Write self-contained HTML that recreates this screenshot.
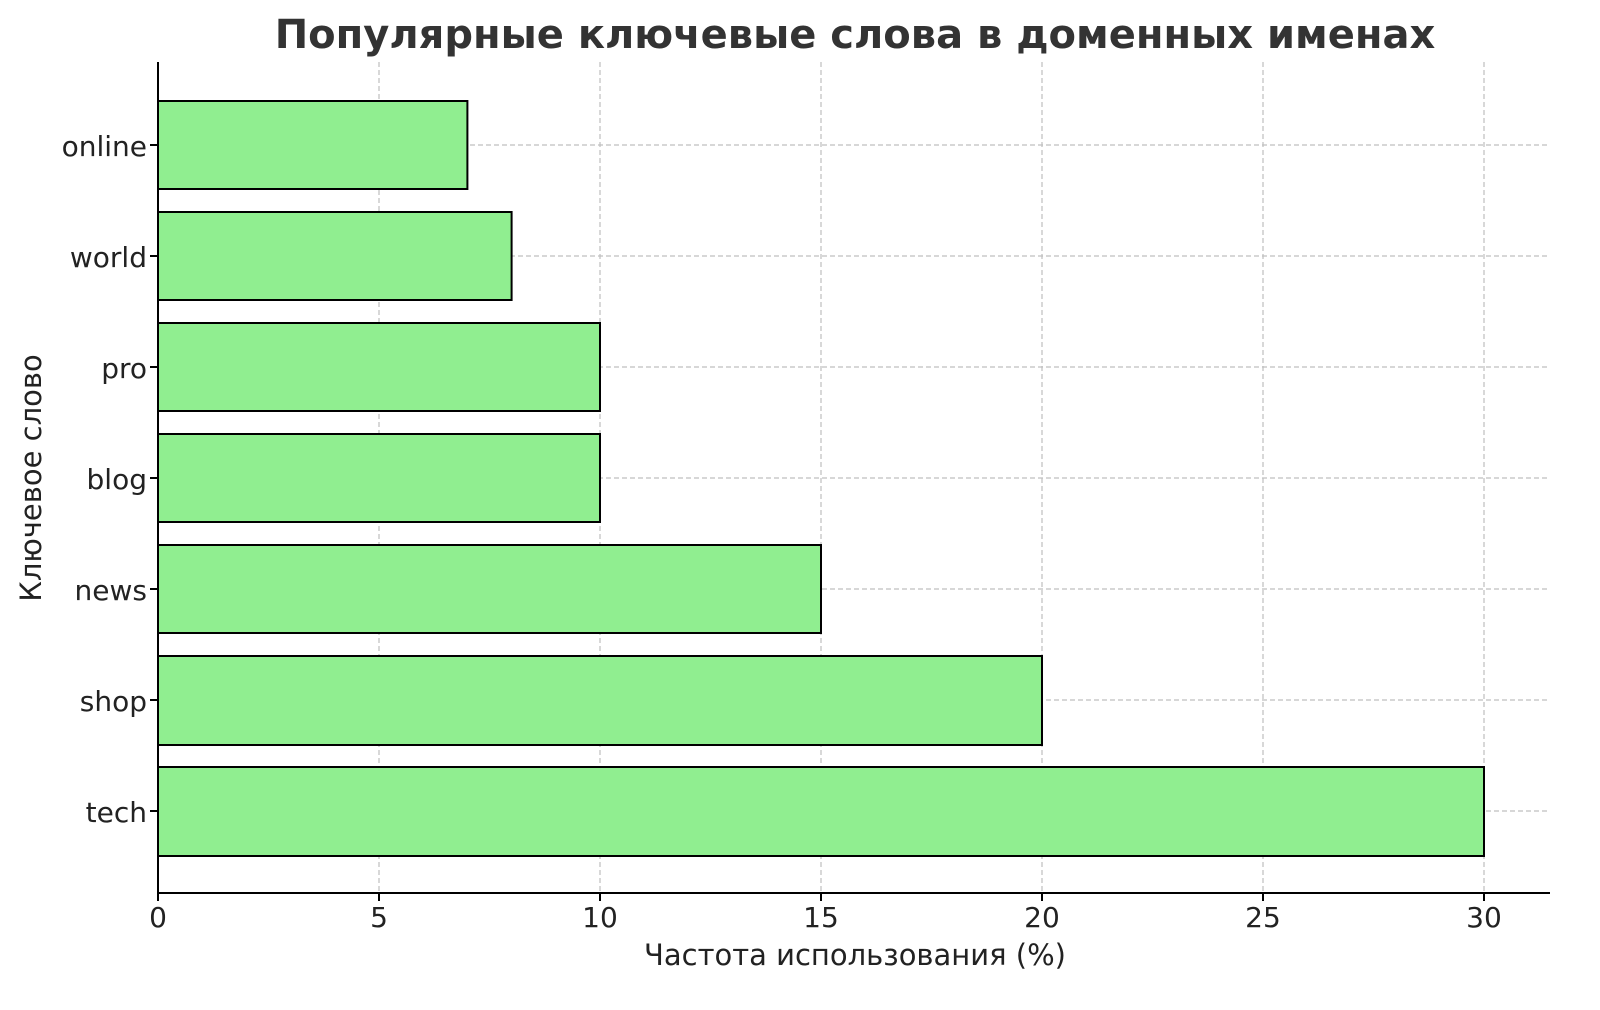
<!DOCTYPE html>
<html><head><meta charset="utf-8"><style>body{margin:0;background:#fff}svg{display:block}</style></head>
<body>
<svg width="1600" height="1010" xmlns="http://www.w3.org/2000/svg" font-family="DejaVu Sans, Liberation Sans, sans-serif">
<rect width="1600" height="1010" fill="#fff"/>
<g stroke="#b0b0b0" stroke-width="1.2" stroke-dasharray="5,3" opacity="0.8">
<line x1="379" y1="62" x2="379" y2="893"/><line x1="600" y1="62" x2="600" y2="893"/>
<line x1="821" y1="62" x2="821" y2="893"/><line x1="1042" y1="62" x2="1042" y2="893"/>
<line x1="1263" y1="62" x2="1263" y2="893"/><line x1="1484" y1="62" x2="1484" y2="893"/>
<line x1="158" y1="145" x2="1550" y2="145"/><line x1="158" y1="256" x2="1550" y2="256"/>
<line x1="158" y1="367" x2="1550" y2="367"/><line x1="158" y1="478" x2="1550" y2="478"/>
<line x1="158" y1="589" x2="1550" y2="589"/><line x1="158" y1="700" x2="1550" y2="700"/>
<line x1="158" y1="811" x2="1550" y2="811"/>
</g>
<g fill="#90ee90" stroke="#000" stroke-width="2">
<rect x="158" y="101" width="309.4" height="88"/>
<rect x="158" y="212" width="353.6" height="88"/>
<rect x="158" y="323" width="442" height="88"/>
<rect x="158" y="434" width="442" height="88"/>
<rect x="158" y="545" width="663" height="88"/>
<rect x="158" y="656" width="884" height="89"/>
<rect x="158" y="767" width="1326" height="89"/>
</g>
<g stroke="#000" stroke-width="2">
<line x1="158" y1="62" x2="158" y2="894"/><line x1="157" y1="893" x2="1550" y2="893"/>
<line x1="158" y1="893" x2="158" y2="901"/><line x1="379" y1="893" x2="379" y2="901"/>
<line x1="600" y1="893" x2="600" y2="901"/><line x1="821" y1="893" x2="821" y2="901"/>
<line x1="1042" y1="893" x2="1042" y2="901"/><line x1="1263" y1="893" x2="1263" y2="901"/>
<line x1="1484" y1="893" x2="1484" y2="901"/>
<line x1="150" y1="145" x2="158" y2="145"/><line x1="150" y1="256" x2="158" y2="256"/>
<line x1="150" y1="367" x2="158" y2="367"/><line x1="150" y1="478" x2="158" y2="478"/>
<line x1="150" y1="589" x2="158" y2="589"/><line x1="150" y1="700" x2="158" y2="700"/>
<line x1="150" y1="811" x2="158" y2="811"/>
</g>
<g font-size="28" fill="#222" text-anchor="middle">
<text x="158" y="927">0</text><text x="379" y="927">5</text><text x="600" y="927">10</text>
<text x="821" y="927">15</text><text x="1042" y="927">20</text><text x="1263" y="927">25</text><text x="1484" y="927">30</text>
</g>
<g font-size="28" fill="#222" text-anchor="end">
<text x="147" y="156">online</text><text x="147" y="267">world</text><text x="147" y="378">pro</text>
<text x="147" y="489">blog</text><text x="147" y="600">news</text><text x="147" y="711">shop</text><text x="147" y="822">tech</text>
</g>
<text x="855" y="965" font-size="29" fill="#222" text-anchor="middle">Частота использования (%)</text>
<text transform="translate(41,478) rotate(-90)" font-size="29" fill="#222" text-anchor="middle">Ключевое слово</text>
<text x="855" y="48" font-size="40" font-weight="bold" fill="#333" text-anchor="middle">Популярные ключевые слова в доменных именах</text>
</svg>
</body></html>
